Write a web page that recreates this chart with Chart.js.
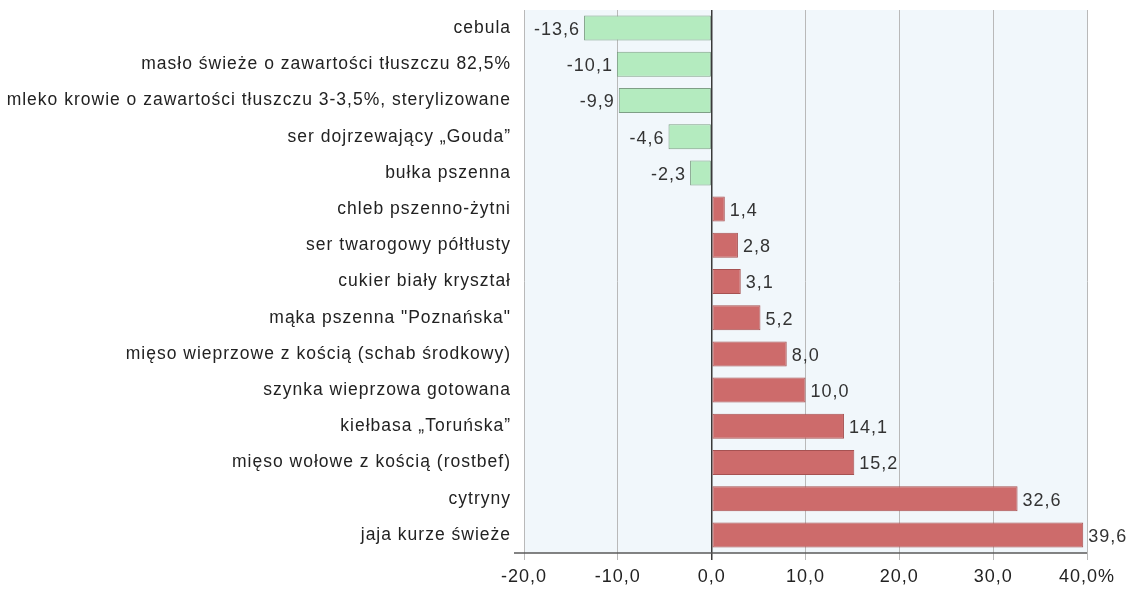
<!DOCTYPE html>
<html>
<head>
<meta charset="utf-8">
<script src="https://cdn.jsdelivr.net/npm/chart.js@4.4.1/dist/chart.umd.min.js"></script>
<style>
  html, body { margin: 0; padding: 0; background: #fff; }
  #wrap { width: 1134px; height: 590px; }
</style>
</head>
<body>
<div id="wrap"><canvas id="priceChart" width="1134" height="590"></canvas></div>
<script>
// product names, top to bottom
const products = [
    'cebula',
    'masło świeże o zawartości tłuszczu 82,5%',
    'mleko krowie o zawartości tłuszczu 3-3,5%, sterylizowane',
    'ser dojrzewający „Gouda”',
    'bułka pszenna',
    'chleb pszenno-żytni',
    'ser twarogowy półtłusty',
    'cukier biały kryształ',
    'mąka pszenna "Poznańska"',
    'mięso wieprzowe z kością (schab środkowy)',
    'szynka wieprzowa gotowana',
    'kiełbasa „Toruńska”',
    'mięso wołowe z kością (rostbef)',
    'cytryny',
    'jaja kurze świeże'
];
// price change in %
const changes = [-13.6, -10.1, -9.9, -4.6, -2.3, 1.4, 2.8, 3.1, 5.2, 8.0, 10.0, 14.1, 15.2, 32.6, 39.6];
const axisMin = -20;
const axisMax = 40;
const axisStep = 10;

const fmt = v => v.toFixed(1).replace('.', ',');

const spacing = {
    id: 'spacing',
    beforeUpdate(chart) { chart.ctx.letterSpacing = '1px'; },
    beforeDraw(chart) { chart.ctx.letterSpacing = '1px'; }
};

const plotBg = {
    id: 'plotBg',
    beforeDraw(chart) {
        const { ctx, chartArea: a } = chart;
        ctx.save();
        ctx.fillStyle = '#f1f7fb';
        ctx.fillRect(a.left, a.top, a.right - a.left, a.bottom - a.top);
        ctx.restore();
    },
    afterDraw(chart) {
        const { ctx, chartArea: a } = chart;
        ctx.save();
        ctx.strokeStyle = '#5a5a5a';
        ctx.lineWidth = 1.5;
        ctx.beginPath();
        ctx.moveTo(a.left - 10, a.bottom);
        ctx.lineTo(a.right, a.bottom);
        ctx.stroke();
        ctx.restore();
    }
};

const valueLabels = {
    id: 'valueLabels',
    afterDatasetsDraw(chart) {
        const ctx = chart.ctx;
        const meta = chart.getDatasetMeta(0);
        ctx.save();
        ctx.letterSpacing = '1px';
        ctx.font = '18px "Liberation Sans", Arial, sans-serif';
        ctx.fillStyle = '#333';
        ctx.textBaseline = 'middle';
        meta.data.forEach((bar, i) => {
            const v = changes[i];
            if (v < 0) {
                ctx.textAlign = 'right';
                ctx.fillText(fmt(v), bar.x - 4, bar.y + 2);
            } else {
                ctx.textAlign = 'left';
                ctx.fillText(fmt(v), bar.x + 5, bar.y + 2);
            }
        });
        ctx.restore();
    }
};

new Chart(document.getElementById('priceChart'), {
    type: 'bar',
    data: {
        labels: products,
        datasets: [{
            data: changes,
            backgroundColor: changes.map(v => v < 0 ? '#b4ebbf' : '#cd6b6b'),
            borderColor: changes.map(v => v < 0 ? '#7f9f86' : '#a65252'),
            borderWidth: 1,
            borderSkipped: false,
            barPercentage: 0.69,
            categoryPercentage: 1
        }]
    },
    options: {
        indexAxis: 'y',
        responsive: false,
        animation: false,
        layout: { padding: { top: 10, right: 47, left: 0, bottom: 0 } },
        plugins: {
            legend: { display: false },
            tooltip: { enabled: false }
        },
        scales: {
            x: {
                min: axisMin,
                max: axisMax,
                ticks: {
                    stepSize: axisStep,
                    padding: 6,
                    color: '#222',
                    font: { family: '"Liberation Sans", Arial, sans-serif', size: 18 },
                    callback: v => fmt(v) + (v === axisMax ? '%' : '')
                },
                grid: {
                    color: c => c.tick && c.tick.value === 0 ? '#3a3a3a' : '#b9b9b9',
                    lineWidth: c => c.tick && c.tick.value === 0 ? 1.5 : 1,
                    tickLength: 7
                },
                border: { display: false },
                afterFit(scale) { scale.height = 37; }
            },
            y: {
                ticks: {
                    padding: 13,
                    color: '#222',
                    font: { family: '"Liberation Sans", Arial, sans-serif', size: 17.5 }
                },
                grid: { display: false, drawTicks: false },
                border: { display: false },
                afterFit(scale) {
                    scale.width = 524;
                    scale.paddingTop = 0;
                    scale.paddingBottom = 0;
                }
            }
        }
    },
    plugins: [spacing, plotBg, valueLabels]
});
</script>
</body>
</html>
